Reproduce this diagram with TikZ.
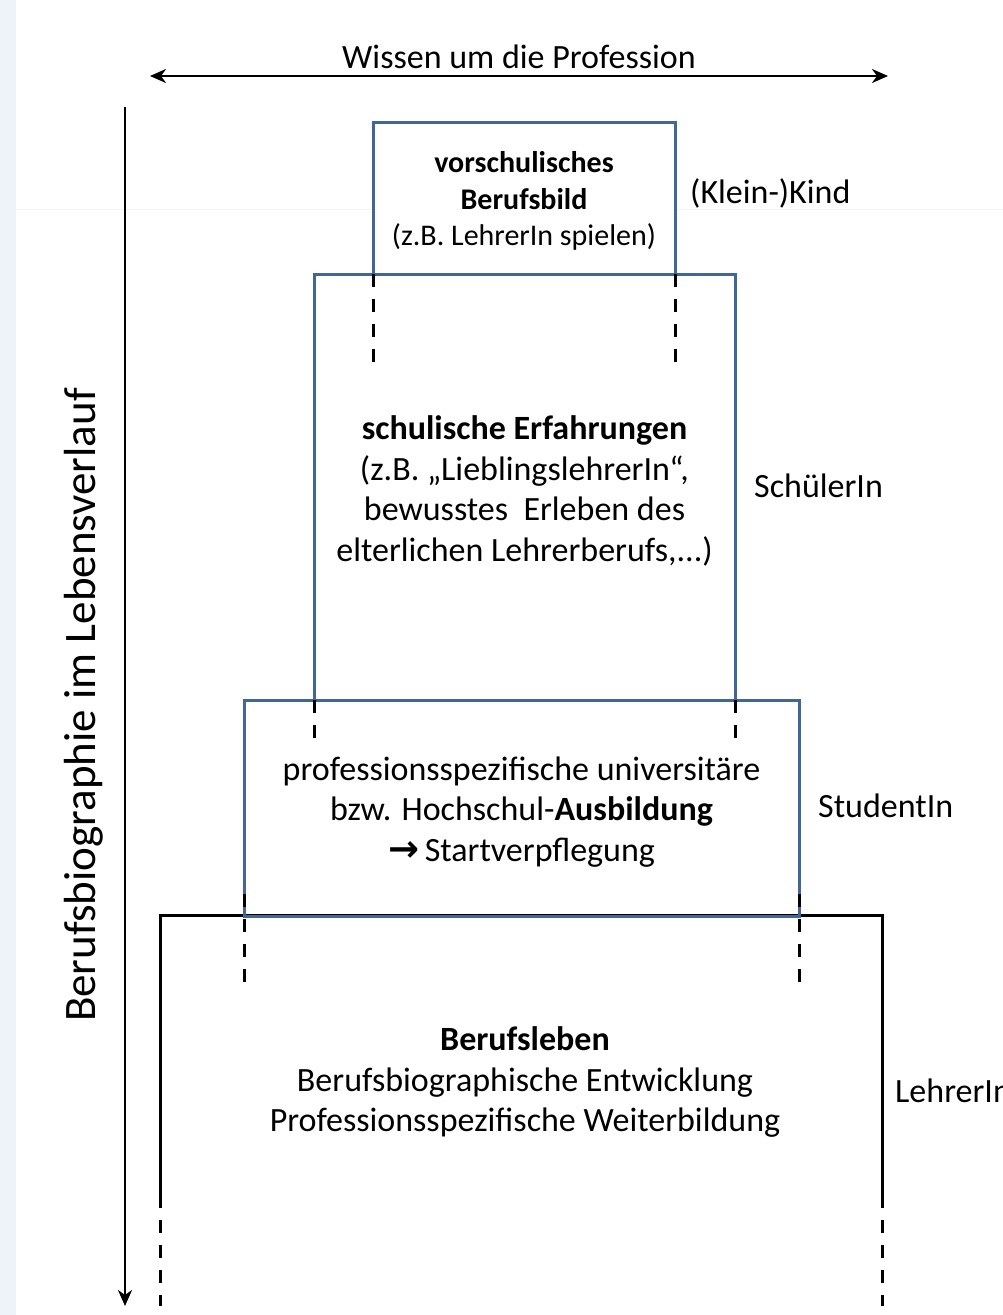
\documentclass[tikz,border=0pt]{standalone}
\usepackage{fontspec}
\setmainfont{Carlito}
\newfontfamily\arrowfont{DejaVu Sans}
\usetikzlibrary{arrows.meta}
\definecolor{boxblue}{RGB}{65,103,150}
\definecolor{stripblue}{RGB}{238,243,250}
\definecolor{faintline}{RGB}{244,244,244}
\tikzset{
  bluebox/.style={draw=boxblue, line width=3pt, rectangle, inner sep=0pt, outer sep=0pt},
  blk/.style={draw=black, line width=3pt, line cap=rect},
  dsh/.style={draw=black, line width=3pt, dash pattern=on 13pt off 12pt},
  axis/.style={draw=black, line width=2.5pt, -{Stealth[length=16pt,width=14pt,inset=5pt]}},
  lbl/.style={anchor=west, inner sep=0pt, font=\fontsize{34}{40}\selectfont},
  plain/.style={align=center, inner sep=0pt, font=\fontsize{34}{40.5}\selectfont}
}
\begin{document}
\begin{tikzpicture}[x=1pt,y=-1pt]
\useasboundingbox (0,0) rectangle (1003,1315);
\fill[white] (0,0) rectangle (1003,1315);
\fill[stripblue] (0,0) rectangle (16,1315);
\draw[faintline, line width=1pt] (16,209) -- (1003,209);

% top axis
\coordinate (tl) at (150,76);
\coordinate (tr) at (888,76);
\draw[axis, {Stealth[length=16pt,width=14pt,inset=5pt]}-{Stealth[length=16pt,width=14pt,inset=5pt]}] (tl) -- (tr);
\node[plain] (ttxt) at (519,57) {Wissen um die Profession};

% vertical axis
\coordinate (vt) at (125,107);
\coordinate (vb) at (125,1306);
\draw[axis] (vt) -- (vb);
\node[plain, rotate=90, font=\fontsize{45}{50}\selectfont] (vtxt) at (84,705) {Berufsbiographie im Lebensverlauf};

% bottom black frame
\coordinate (bl) at (160,915);
\coordinate (br) at (882,915);
\coordinate (bld) at (160,1195);
\coordinate (brd) at (882,1195);
\coordinate (ble) at (160,1306);
\coordinate (bre) at (882,1306);
\draw[blk] (bld) -- (bl) -- (br) -- (brd);
\draw[dsh] (bld) -- (ble);
\draw[dsh] (brd) -- (bre);

% boxes
\node[bluebox, minimum width=421pt, minimum height=426pt] (b2) at (524.5,487) {};
\node[bluebox, minimum width=302pt, minimum height=152pt, fill=white] (b1) at (524,198) {};
\draw[bluebox] (b1.south west) -- (b1.south east);
\node[bluebox, minimum width=555pt, minimum height=216pt] (b3) at (521.5,808) {};

% box texts
\node[plain, font=\fontsize{30}{36.5}\selectfont] (t1) at (524,201) {\textbf{vorschulisches}\\\textbf{Berufsbild}\\(z.B. LehrerIn spielen)};
\node[plain] (t2) at (524.5,491) {\textbf{schulische Erfahrungen}\\(z.B. „LieblingslehrerIn“,\\bewusstes\ \ Erleben des\\elterlichen Lehrerberufs,...)};
\node[plain] (t3) at (521.5,812) {professionsspezifische universitäre\\bzw. Hochschul-\textbf{Ausbildung}\\{\arrowfont\bfseries\fontsize{37}{40}\selectfont →}\,Startverpflegung};

% dashed continuations
\draw[dsh] (b1.south west) -- ++(0,94);
\draw[dsh] (b1.south east) -- ++(0,94);
\draw[dsh] (b2.south west) -- ++(0,42);
\draw[dsh] (b2.south east) -- ++(0,42);
\draw[dsh] (b3.south west) ++(0,-22) -- ++(0,96);
\draw[dsh] (b3.south east) ++(0,-22) -- ++(0,96);
\draw[boxblue, line width=3pt] (b3.south west) -- (b3.south east);

% bottom text
\node[plain] (b4) at (525,1082) {\textbf{Berufsleben}\\Berufsbiographische Entwicklung\\Professionsspezifische Weiterbildung};

% role labels
\node[lbl] (l1) at (690,193) {(Klein-)Kind};
\node[lbl] (l2) at (754,486) {SchülerIn};
\node[lbl] (l3) at (818,806) {StudentIn};
\node[lbl] (l4) at (895,1091) {LehrerIn};
\end{tikzpicture}
\end{document}
